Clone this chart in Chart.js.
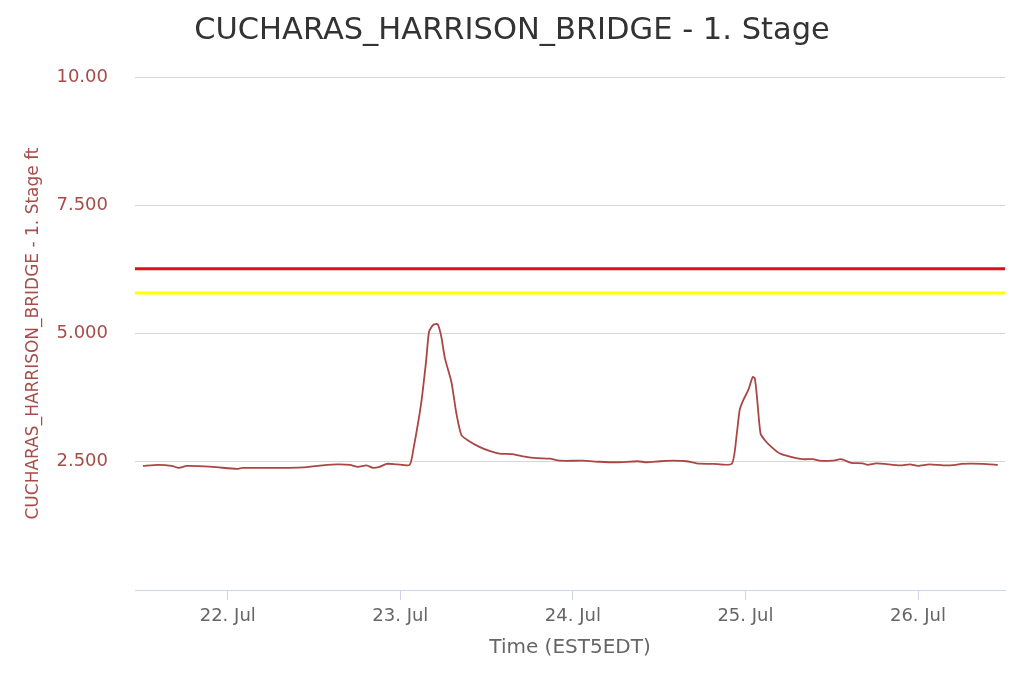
<!DOCTYPE html>
<html>
<head>
<meta charset="utf-8">
<style>
  html, body { margin: 0; padding: 0; background: #ffffff; }
  #wrap { width: 1024px; height: 683px; }
</style>
<script src="https://cdn.jsdelivr.net/npm/chart.js@4"></script>
</head>
<body>
<div id="wrap"><canvas id="c" width="1024" height="683"></canvas></div>
<script>
// Hours since 22 Jul 00:00 (EST5EDT)
const hours = [
  -11.8, -9.7, -7.8, -6.8, -5.7, -2.1, 1.25, 2.1, 7.2, 10.4, 13.2, 15.2, 17.0, 18.1, 19.3, 20.2, 21.1, 22.1, 23.5, 25.3,
  25.8, 26.9, 27.6, 28.0, 28.6, 29.2, 29.7, 30.2, 31.1, 31.8, 32.5, 33.7, 35.0, 36.4, 37.8, 39.6, 41.3, 43.0, 44.8, 46.2,
  49.4, 51.7, 54.1, 57.0, 58.3, 60.1, 61.9, 63.8, 65.2, 67.5, 70.1,
  70.8, 71.2, 71.7, 72.4, 73.0, 73.3, 73.6, 74.1, 74.7, 75.6, 76.8, 78.2, 80.0, 81.4, 82.3, 84.1, 85.3, 86.7, 88.3,
  89.0, 90.2, 93.5, 94.9, 96.0, 97.6, 99.5, 101.3, 102.0, 105.0, 107.1
];
const stage = [
  2.42, 2.44, 2.42, 2.38, 2.42, 2.40, 2.36, 2.38, 2.38, 2.39, 2.43, 2.45, 2.44, 2.40, 2.43, 2.38, 2.40, 2.46, 2.45, 2.44,
  2.73, 3.64, 4.48, 5.04, 5.17, 5.18, 4.94, 4.52, 4.06, 3.44, 3.02, 2.89, 2.79, 2.71, 2.66, 2.65, 2.60, 2.57, 2.56, 2.52,
  2.52, 2.50, 2.49, 2.51, 2.49, 2.51, 2.52, 2.51, 2.47, 2.46, 2.46,
  3.05, 3.51, 3.70, 3.90, 4.15, 4.13, 3.77, 3.05, 2.92, 2.79, 2.66, 2.60, 2.55, 2.55, 2.52, 2.52, 2.55, 2.48, 2.47,
  2.44, 2.47, 2.43, 2.45, 2.42, 2.45, 2.43, 2.44, 2.46, 2.46, 2.44
];
const redLevel = 6.26;
const yellowLevel = 5.79;
const xTickHours = [0, 24, 48, 72, 96];
const xTickLabels = ['22. Jul', '23. Jul', '24. Jul', '25. Jul', '26. Jul'];
const yTickValues = [0, 2.5, 5, 7.5, 10];
const yTickLabels = ['', '2.500', '5.000', '7.500', '10.00'];
const xMin = -12.9, xMax = 108.1;

const FONT = "'DejaVu Sans', 'Liberation Sans', sans-serif";
const seriesColor = '#AA4643';

const linePoints = hours.map((h, i) => ({ x: h, y: stage[i] }));

new Chart(document.getElementById('c'), {
  type: 'line',
  data: {
    datasets: [
      {
        label: 'CUCHARAS_HARRISON_BRIDGE - 1. Stage',
        data: linePoints,
        borderColor: seriesColor,
        borderWidth: 1.8,
        pointRadius: 0,
        tension: 0.2,
        fill: false
      },
      {
        label: 'red',
        data: [{ x: xMin, y: redLevel }, { x: xMax, y: redLevel }],
        borderColor: '#e60d12',
        borderWidth: 3,
        pointRadius: 0,
        fill: false
      },
      {
        label: 'yellow',
        data: [{ x: xMin, y: yellowLevel }, { x: xMax, y: yellowLevel }],
        borderColor: '#ffff00',
        borderWidth: 3,
        pointRadius: 0,
        fill: false
      }
    ]
  },
  options: {
    responsive: false,
    animation: false,
    layout: { padding: 0 },
    plugins: {
      legend: { display: false },
      tooltip: { enabled: false },
      title: {
        display: true,
        text: 'CUCHARAS_HARRISON_BRIDGE - 1. Stage',
        color: '#333333',
        font: { family: FONT, size: 30.5, weight: 'normal', lineHeight: 1.2 },
        padding: { top: 13, bottom: 27.4 }
      }
    },
    scales: {
      x: {
        type: 'linear',
        min: xMin,
        max: xMax,
        afterBuildTicks: (scale) => { scale.ticks = xTickHours.map(v => ({ value: v })); },
        afterFit: (scale) => { scale.height = 93; },
        grid: {
          drawOnChartArea: false,
          drawTicks: true,
          tickLength: 10,
          color: '#ccd6eb',
          lineWidth: 1
        },
        border: { display: true, color: '#ccd6eb', width: 1 },
        ticks: {
          color: '#666666',
          font: { family: FONT, size: 18 },
          padding: 6,
          maxRotation: 0,
          autoSkip: false,
          callback: (v) => { const i = xTickHours.indexOf(v); return i >= 0 ? xTickLabels[i] : ''; }
        },
        title: {
          display: true,
          text: 'Time (EST5EDT)',
          color: '#666666',
          font: { family: FONT, size: 20, lineHeight: 1.2 },
          padding: { top: 4, bottom: 23 }
        }
      },
      y: {
        type: 'linear',
        position: 'left',
        min: 0,
        max: 10,
        afterBuildTicks: (scale) => { scale.ticks = yTickValues.map(v => ({ value: v })); },
        afterFit: (scale) => { scale.width = 135; },
        grid: {
          drawTicks: false,
          color: (ctx) => (ctx.tick && ctx.tick.value === 0) ? 'rgba(0,0,0,0)' : '#d6d6d6',
          lineWidth: 1
        },
        border: { display: false },
        ticks: {
          color: '#a64d4a',
          font: { family: FONT, size: 18 },
          padding: 27,
          callback: (v) => { const i = yTickValues.indexOf(v); return i >= 0 ? yTickLabels[i] : ''; }
        },
        title: {
          display: true,
          text: 'CUCHARAS_HARRISON_BRIDGE - 1. Stage ft',
          color: '#a64d4a',
          font: { family: FONT, size: 17, lineHeight: 1.2 },
          padding: { top: 23, bottom: 4 }
        }
      },
      yRight: {
        type: 'linear',
        position: 'right',
        min: 0,
        max: 10,
        display: true,
        afterFit: (scale) => { scale.width = 19; },
        grid: { display: false, drawOnChartArea: false },
        border: { display: false },
        ticks: { display: false }
      }
    }
  }
});
</script>
</body>
</html>
